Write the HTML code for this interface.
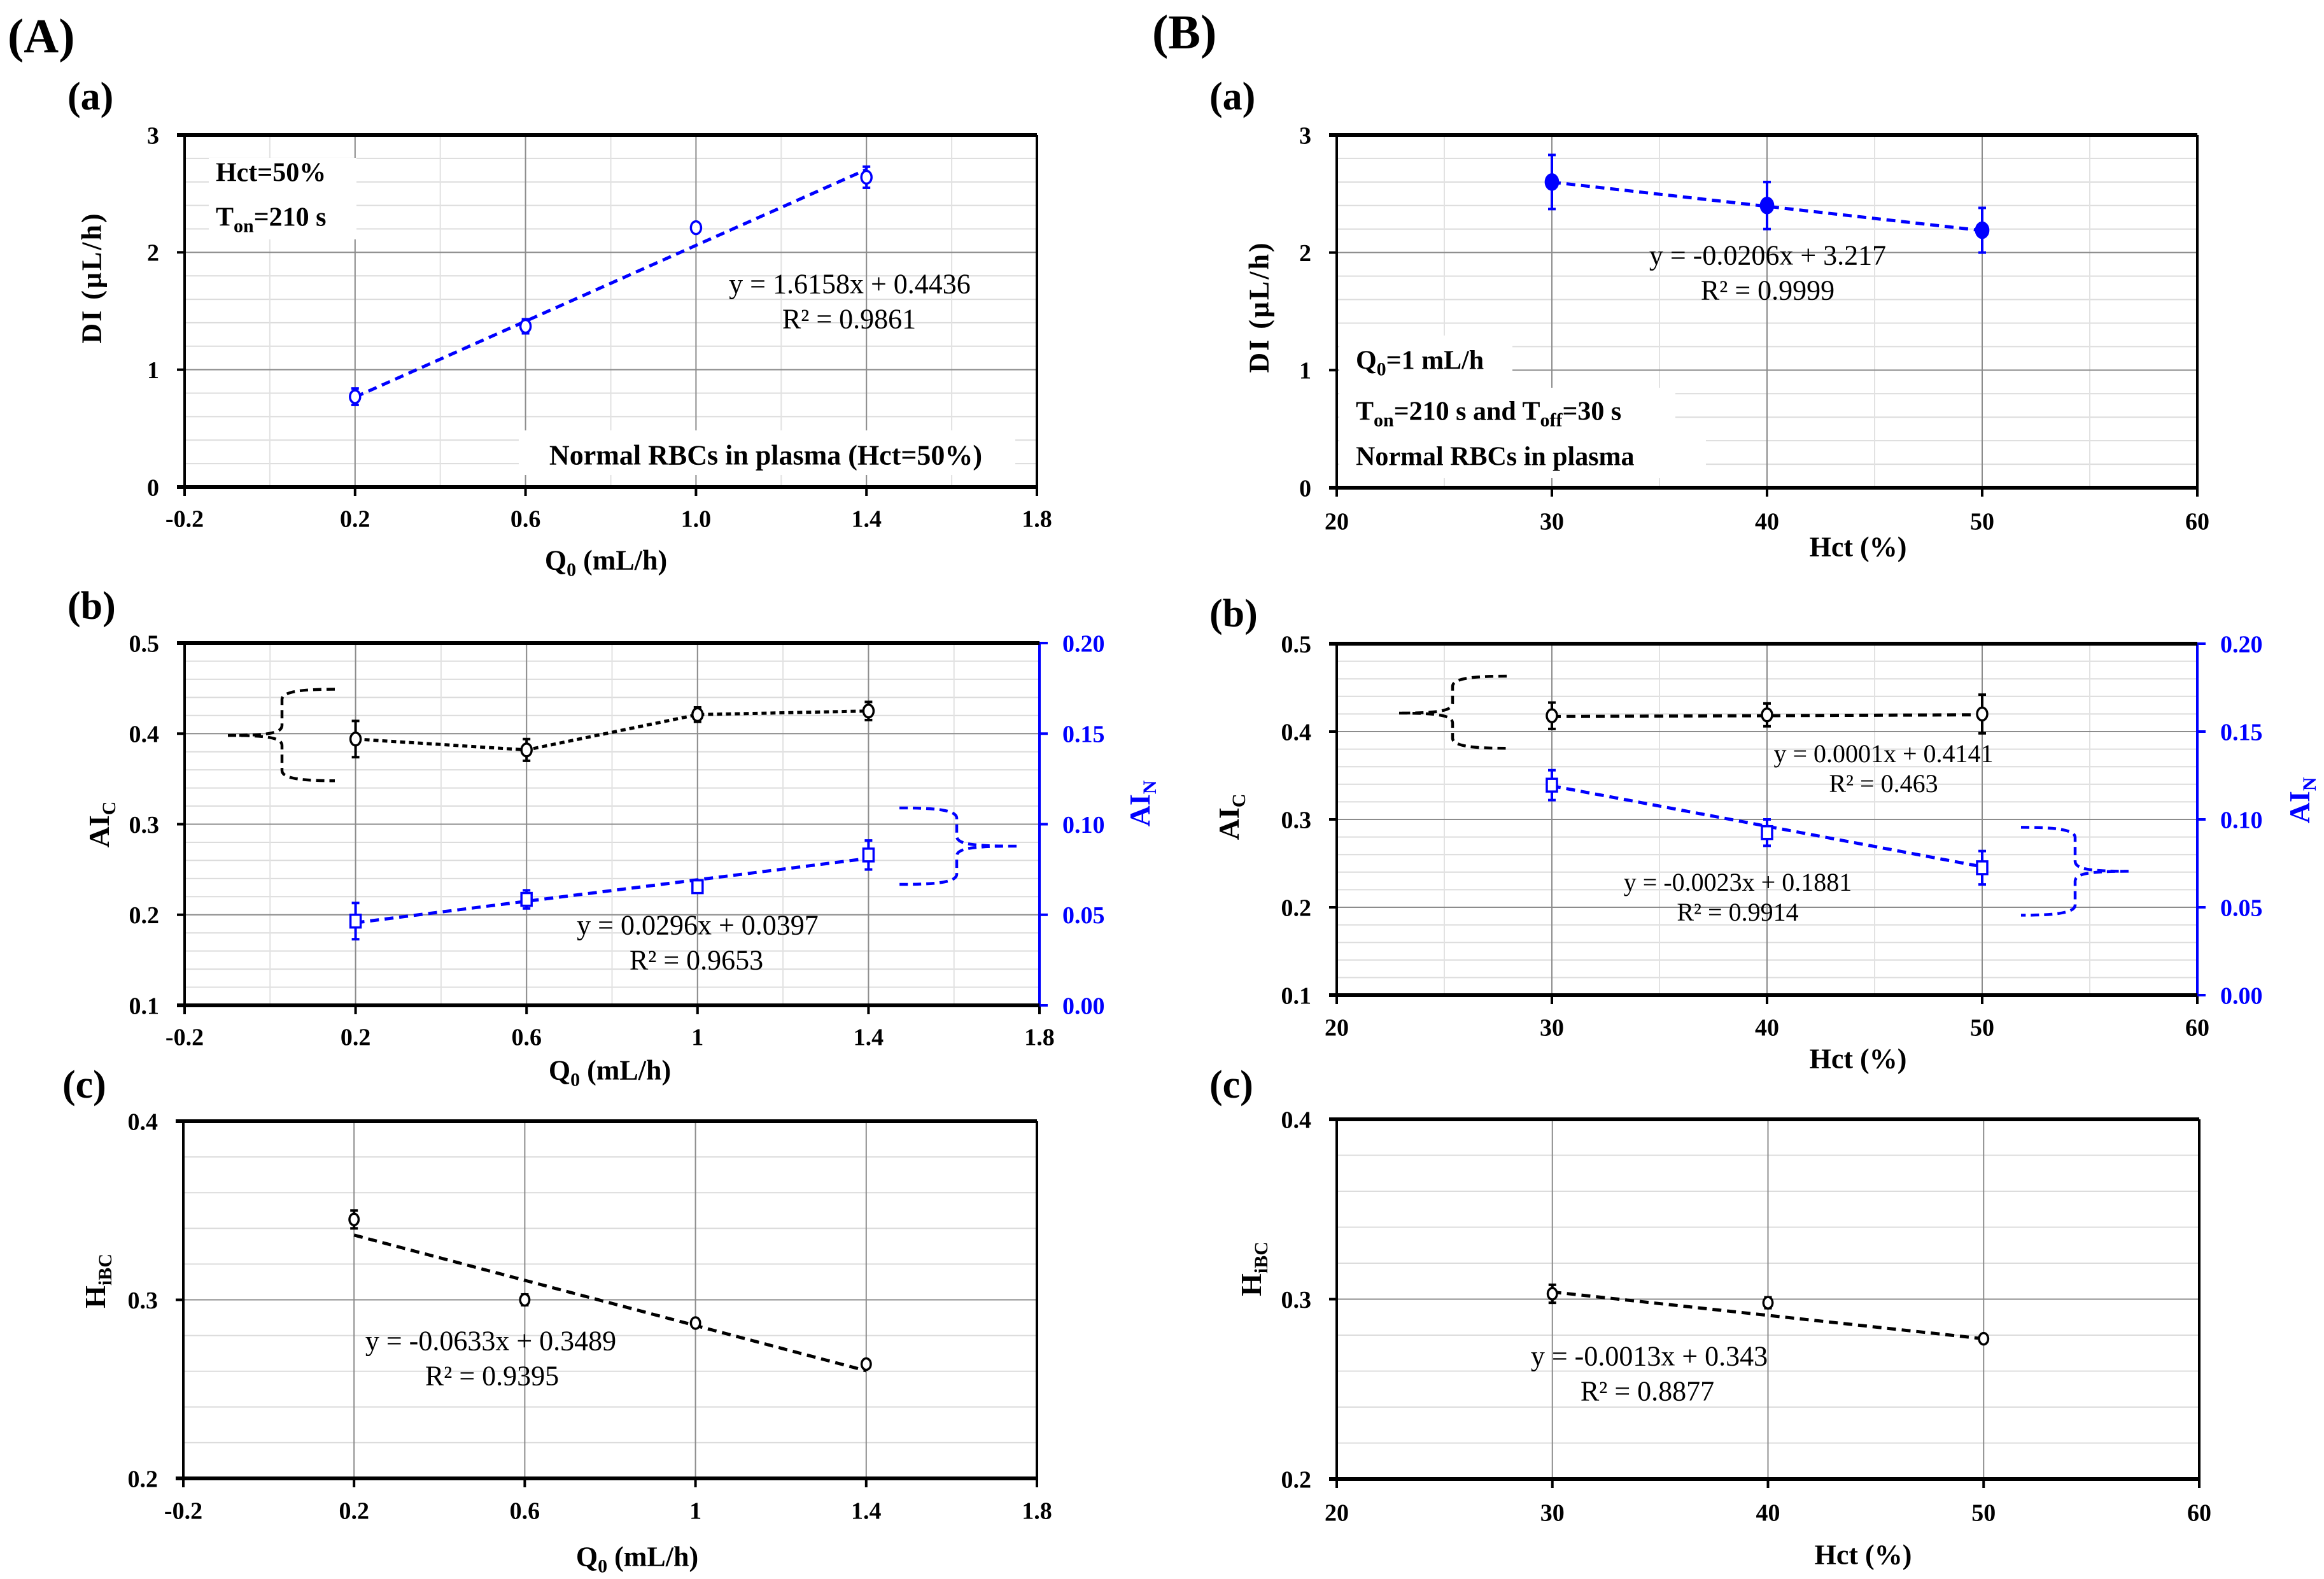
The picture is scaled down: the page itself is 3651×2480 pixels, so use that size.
<!DOCTYPE html>
<html><head><meta charset="utf-8"><style>
html,body{margin:0;padding:0;background:#fff;}
svg{display:block;font-family:"Liberation Serif",serif;}
</style></head><body>
<svg id="fig" width="3651" height="2480" viewBox="0 0 3651 2480" xmlns="http://www.w3.org/2000/svg">
<rect x="0" y="0" width="3651" height="2480" fill="#fff"/>
<g id="layer"></g>
<g font-weight="bold" fill="#000">
<text x="12" y="82" font-size="76">(A)</text>
<text x="1810" y="76" font-size="76">(B)</text>
<text x="106" y="172" font-size="62">(a)</text>
<text x="1900" y="172" font-size="62">(a)</text>
<text x="106" y="972" font-size="62">(b)</text>
<text x="1900" y="984" font-size="62">(b)</text>
<text x="98" y="1724" font-size="62">(c)</text>
<text x="1900" y="1724" font-size="62">(c)</text>
</g>
</svg>
<script>
// ---------- data ----------
const qX = [0.2, 0.6, 1.0, 1.4];
const aaDI = [0.77, 1.37, 2.21, 2.64];
const aaErr = [0.07, 0.06, 0.04, 0.09];
const aaFit = [1.6158, 0.4436];
const abAIc = [0.394, 0.382, 0.421, 0.425];
const abAIcErr = [0.02, 0.012, 0.008, 0.01];
const abAIN = [0.0465, 0.0585, 0.0655, 0.083];
const abAINErr = [0.01, 0.005, 0.003, 0.008];
const abFit = [0.0296, 0.0397];
const acH = [0.345, 0.300, 0.287, 0.264];
const acErr = [0.005, 0.003, 0.002, 0.002];
const acFit = [-0.0633, 0.3489];
const hX = [30, 40, 50];
const baDI = [2.6, 2.4, 2.19];
const baErr = [0.23, 0.2, 0.19];
const baFit = [-0.0206, 3.217];
const bbAIc = [0.418, 0.419, 0.42];
const bbAIcErr = [0.015, 0.013, 0.022];
const bbAIcFit = [0.0001, 0.4141];
const bbAIN = [0.1195, 0.0925, 0.0725];
const bbAINErr = [0.0085, 0.0075, 0.0095];
const bbAINFit = [-0.0023, 0.1881];
const bcH = [0.303, 0.298, 0.278];
const bcErr = [0.005, 0.003, 0.002];
const bcFit = [-0.0013, 0.343];
const qTicks = ["-0.2","0.2","0.6","1.0","1.4","1.8"];
const qTicks2 = ["-0.2","0.2","0.6","1","1.4","1.8"];
const hTicks = ["20","30","40","50","60"];
const diTicks = ["0","1","2","3"];
const aiTicks = ["0.1","0.2","0.3","0.4","0.5"];
const ainTicks = ["0.00","0.05","0.10","0.15","0.20"];
const hibcTicks = ["0.2","0.3","0.4"];

const NS = "http://www.w3.org/2000/svg";
const layer = document.getElementById('layer');
function mk(tag, attrs, name, parent) {
  const el = document.createElementNS(NS, tag);
  for (const k in attrs) el.setAttribute(k, attrs[k]);
  
  
  (parent || layer).appendChild(el);
  return el;
}
function txt(x, y, s, fs, opts, name) {
  const t = mk('text', Object.assign({x: x, y: y + fs * 0.35, 'font-size': fs, 'text-anchor': 'middle'}, opts || {}), name);
  t.innerHTML = s;
  return t;
}
function panel(p) {
  p.sx = v => p.x0 + (v - p.xmin) / (p.xmax - p.xmin) * (p.x1 - p.x0);
  p.sy = v => p.y1 - (v - p.ymin) / (p.ymax - p.ymin) * (p.y1 - p.y0);
  if (p.rmin !== undefined) p.sr = v => p.y1 - (v - p.rmin) / (p.rmax - p.rmin) * (p.y1 - p.y0);
  const eps = 1e-9;
  for (let v = p.ymin + p.ystepMinor; v < p.ymax - eps; v += p.ystepMinor) {
    mk('line', {x1: p.x0, x2: p.x1, y1: p.sy(v), y2: p.sy(v), stroke: '#dcdcdc', 'stroke-width': 2}, 'minor-gridline-y');
  }
  if (p.xstepMinor) for (let v = p.xmin + p.xstepMinor; v < p.xmax - eps; v += p.xstepMinor) {
    mk('line', {x1: p.sx(v), x2: p.sx(v), y1: p.y0, y2: p.y1, stroke: '#e2e2e2', 'stroke-width': 2}, 'minor-gridline-x');
  }
  p.majorY.forEach(v => mk('line', {x1: p.x0, x2: p.x1, y1: p.sy(v), y2: p.sy(v), stroke: '#8c8c8c', 'stroke-width': 2}, 'major-gridline-y'));
  p.majorX.forEach(v => mk('line', {x1: p.sx(v), x2: p.sx(v), y1: p.y0, y2: p.y1, stroke: '#8c8c8c', 'stroke-width': 2}, 'major-gridline-x'));
  (p.boxes || []).forEach(b => mk('rect', {x: b[0], y: b[1], width: b[2], height: b[3], fill: '#fff'}, 'annotation-background'));
  mk('line', {x1: p.x0, x2: p.x0, y1: p.y0, y2: p.y1, stroke: '#000', 'stroke-width': 4}, 'left-axis');
  mk('line', {x1: p.x1, x2: p.x1, y1: p.y0, y2: p.y1, stroke: p.rmin !== undefined ? '#0000ff' : '#000', 'stroke-width': 4}, 'right-axis');
  mk('line', {x1: p.x0 - 12, x2: p.x1, y1: p.y0, y2: p.y0, stroke: '#000', 'stroke-width': 6}, 'top-border');
  mk('line', {x1: p.x0 - 12, x2: p.x1, y1: p.y1, y2: p.y1, stroke: '#000', 'stroke-width': 6}, 'x-axis');
  p.xTicks.forEach((s, i) => {
    const v = p.xmin + i * p.xTickStep, x = p.sx(v);
    mk('line', {x1: x, x2: x, y1: p.y1, y2: p.y1 + 14, stroke: '#000', 'stroke-width': 4}, 'x-tick');
    txt(x, p.xTickY, s, 38, {'font-weight': 'bold'}, 'x-tick-label');
  });
  p.yTicks.forEach((s, i) => {
    const v = p.ymin + i * p.yTickStep, y = p.sy(v);
    mk('line', {x1: p.x0 - 12, x2: p.x0, y1: y, y2: y, stroke: '#000', 'stroke-width': 4}, 'y-tick');
    txt(p.x0 - 40, y, s, 38, {'font-weight': 'bold', 'text-anchor': 'end'}, 'y-tick-label');
  });
  if (p.rTicks) p.rTicks.forEach((s, i) => {
    const v = p.rmin + i * p.rTickStep, y = p.sr(v);
    mk('line', {x1: p.x1, x2: p.x1 + 13, y1: y, y2: y, stroke: '#0000ff', 'stroke-width': 4}, 'right-y-tick');
    txt(p.x1 + 36, y, s, 38, {'font-weight': 'bold', 'text-anchor': 'start', fill: '#0000ff'}, 'right-y-tick-label');
  });
  return p;
}
function errBars(p, xs, ys, es, sy, color, name) {
  xs.forEach((xv, i) => {
    const x = p.sx(xv), ya = sy(ys[i] + es[i]), yb = sy(ys[i] - es[i]);
    mk('line', {x1: x, x2: x, y1: ya, y2: yb, stroke: color, 'stroke-width': 4}, name);
    mk('line', {x1: x - 6, x2: x + 6, y1: ya, y2: ya, stroke: color, 'stroke-width': 4}, name + '-cap');
    mk('line', {x1: x - 6, x2: x + 6, y1: yb, y2: yb, stroke: color, 'stroke-width': 4}, name + '-cap');
  });
}
function fitLine(p, fit, xa, xb, sy, color, name) {
  mk('line', {x1: p.sx(xa), y1: sy(fit[0] * xa + fit[1]), x2: p.sx(xb), y2: sy(fit[0] * xb + fit[1]), stroke: color, 'stroke-width': 5, 'stroke-dasharray': '14,9'}, name);
}
function circles(p, xs, ys, sy, color, filled, r, name) {
  xs.forEach((xv, i) => mk('ellipse', {cx: p.sx(xv), cy: sy(ys[i]), rx: r * 0.8, ry: r, fill: filled ? color : '#fff', stroke: color, 'stroke-width': 3.5}, name));
}
function squares(p, xs, ys, sy, color, name) {
  xs.forEach((xv, i) => mk('rect', {x: p.sx(xv) - 8, y: sy(ys[i]) - 10, width: 16, height: 20, fill: '#fff', stroke: color, 'stroke-width': 3.5}, name));
}
function brace(xe, xv, xt, yt, ym, yb, color, name) {
  const r = 16, dir = Math.sign(xe - xv);
  const d = `M${xe},${yt} C${xv + dir * 40},${yt} ${xv},${yt + 2} ${xv},${yt + r} L${xv},${ym - r} C${xv},${ym - 4} ${xv - dir * 20},${ym} ${xt},${ym} ` +
    `M${xt},${ym} C${xv - dir * 20},${ym} ${xv},${ym + 4} ${xv},${ym + r} L${xv},${yb - r} C${xv},${yb - 2} ${xv + dir * 40},${yb} ${xe},${yb}`;
  mk('path', {d: d, fill: 'none', stroke: color, 'stroke-width': 4.5, 'stroke-dasharray': '13,8'}, name);
}

// ---------- A(a) ----------
const Aa = panel({x0: 290, x1: 1629, y0: 212, y1: 765, xmin: -0.2, xmax: 1.8, ymin: 0, ymax: 3,
  ystepMinor: 0.2, xstepMinor: 0.2, majorY: [1, 2], majorX: [0.2, 0.6, 1.0, 1.4],
  xTicks: qTicks, xTickStep: 0.4, xTickY: 814, yTicks: diTicks, yTickStep: 1,
  boxes: [[328, 248, 232, 128], [815, 676, 780, 70]]});
fitLine(Aa, aaFit, 0.2, 1.4, Aa.sy, '#0000ff', 'di-trendline');
errBars(Aa, qX, aaDI, aaErr, Aa.sy, '#0000ff', 'di-error-bar');
circles(Aa, qX, aaDI, Aa.sy, '#0000ff', false, 10, 'di-point');

// ---------- A(b) ----------
const Ab = panel({x0: 290, x1: 1633, y0: 1010, y1: 1579, xmin: -0.2, xmax: 1.8, ymin: 0.1, ymax: 0.5, rmin: 0, rmax: 0.2,
  ystepMinor: 0.02, xstepMinor: 0.2, majorY: [0.2, 0.3, 0.4], majorX: [0.2, 0.6, 1.0, 1.4],
  xTicks: qTicks2, xTickStep: 0.4, xTickY: 1628, yTicks: aiTicks, yTickStep: 0.1, rTicks: ainTicks, rTickStep: 0.05});
mk('polyline', {points: qX.map((x, i) => Ab.sx(x) + ',' + Ab.sy(abAIc[i])).join(' '), fill: 'none', stroke: '#000', 'stroke-width': 5, 'stroke-dasharray': '8,6'}, 'aic-line');
errBars(Ab, qX, abAIc, abAIcErr, Ab.sy, '#000', 'aic-error-bar');
circles(Ab, qX, abAIc, Ab.sy, '#000', false, 10, 'aic-point');
fitLine(Ab, abFit, 0.2, 1.4, Ab.sr, '#0000ff', 'ain-trendline');
errBars(Ab, qX, abAIN, abAINErr, Ab.sr, '#0000ff', 'ain-error-bar');
squares(Ab, qX, abAIN, Ab.sr, '#0000ff', 'ain-point');
brace(526, 443, 358, Ab.sy(0.449), Ab.sy(0.398), Ab.sy(0.348), '#000', 'aic-brace');
brace(1413, 1503, 1597, 1269, 1329, 1389, '#0000ff', 'ain-brace');

// ---------- A(c) ----------
const Ac = panel({x0: 288, x1: 1629, y0: 1761, y1: 2322, xmin: -0.2, xmax: 1.8, ymin: 0.2, ymax: 0.4,
  ystepMinor: 0.02, majorY: [0.3], majorX: [0.2, 0.6, 1.0, 1.4],
  xTicks: qTicks2, xTickStep: 0.4, xTickY: 2372, yTicks: hibcTicks, yTickStep: 0.1});
fitLine(Ac, acFit, 0.2, 1.4, Ac.sy, '#000', 'hibc-trendline');
errBars(Ac, qX, acH, acErr, Ac.sy, '#000', 'hibc-error-bar');
circles(Ac, qX, acH, Ac.sy, '#000', false, 9, 'hibc-point');

// ---------- B(a) ----------
const Ba = panel({x0: 2100, x1: 3452, y0: 212, y1: 766, xmin: 20, xmax: 60, ymin: 0, ymax: 3,
  ystepMinor: 0.2, xstepMinor: 5, majorY: [1, 2], majorX: [30, 40, 50],
  xTicks: hTicks, xTickStep: 10, xTickY: 818, yTicks: diTicks, yTickStep: 1,
  boxes: [[2104, 527, 272, 82], [2104, 609, 528, 70], [2104, 679, 576, 72]]});
fitLine(Ba, baFit, 30, 50, Ba.sy, '#0000ff', 'di-trendline');
errBars(Ba, hX, baDI, baErr, Ba.sy, '#0000ff', 'di-error-bar');
circles(Ba, hX, baDI, Ba.sy, '#0000ff', true, 12, 'di-point');

// ---------- B(b) ----------
const Bb = panel({x0: 2100, x1: 3452, y0: 1011, y1: 1563, xmin: 20, xmax: 60, ymin: 0.1, ymax: 0.5, rmin: 0, rmax: 0.2,
  ystepMinor: 0.02, xstepMinor: 5, majorY: [0.2, 0.3, 0.4], majorX: [30, 40, 50],
  xTicks: hTicks, xTickStep: 10, xTickY: 1613, yTicks: aiTicks, yTickStep: 0.1, rTicks: ainTicks, rTickStep: 0.05});
fitLine(Bb, bbAIcFit, 30, 50, Bb.sy, '#000', 'aic-trendline');
errBars(Bb, hX, bbAIc, bbAIcErr, Bb.sy, '#000', 'aic-error-bar');
circles(Bb, hX, bbAIc, Bb.sy, '#000', false, 10, 'aic-point');
fitLine(Bb, bbAINFit, 30, 50, Bb.sr, '#0000ff', 'ain-trendline');
errBars(Bb, hX, bbAIN, bbAINErr, Bb.sr, '#0000ff', 'ain-error-bar');
squares(Bb, hX, bbAIN, Bb.sr, '#0000ff', 'ain-point');
brace(2367, 2282, 2198, Bb.sy(0.463), Bb.sy(0.421), Bb.sy(0.381), '#000', 'aic-brace');
brace(3175, 3260, 3344, Bb.sy(0.291), Bb.sy(0.241), Bb.sy(0.191), '#0000ff', 'ain-brace');

// ---------- B(c) ----------
const Bc = panel({x0: 2100, x1: 3455, y0: 1758, y1: 2323, xmin: 20, xmax: 60, ymin: 0.2, ymax: 0.4,
  ystepMinor: 0.02, majorY: [0.3], majorX: [30, 40, 50],
  xTicks: hTicks, xTickStep: 10, xTickY: 2375, yTicks: hibcTicks, yTickStep: 0.1});
fitLine(Bc, bcFit, 30, 50, Bc.sy, '#000', 'hibc-trendline');
errBars(Bc, hX, bcH, bcErr, Bc.sy, '#000', 'hibc-error-bar');
circles(Bc, hX, bcH, Bc.sy, '#000', false, 9, 'hibc-point');

// ---------- titles & annotations ----------
const B = {'font-weight': 'bold'};
txt(952, 879, 'Q' + '<tspan dy="10" font-size="30">0</tspan><tspan dy="-10"> (mL/h)</tspan>', 44, B, 'x-axis-title');
txt(143, 436, 'DI (μL/h)', 44, Object.assign({transform: 'rotate(-90 143 436)', 'letter-spacing': '3'}, B), 'y-axis-title');
txt(339, 270, 'Hct=50%', 42, Object.assign({'text-anchor': 'start'}, B), 'hct-annotation');
txt(339, 340, 'T<tspan dy="10" font-size="30">on</tspan><tspan dy="-10">=210 s</tspan>', 42, Object.assign({'text-anchor': 'start'}, B), 'ton-annotation');
txt(1335, 445, 'y = 1.6158x + 0.4436', 44, {}, 'trend-equation');
txt(1334, 500, 'R² = 0.9861', 44, {}, 'r-squared');
txt(1203, 714, 'Normal RBCs in plasma (Hct=50%)', 44, B, 'sample-annotation');
txt(958, 1680, 'Q<tspan dy="10" font-size="30">0</tspan><tspan dy="-10"> (mL/h)</tspan>', 44, B, 'x-axis-title');
txt(155, 1295, 'AI<tspan dy="10" font-size="30">C</tspan>', 46, Object.assign({transform: 'rotate(-90 155 1295)'}, B), 'left-y-axis-title');
txt(1790, 1262, 'AI<tspan dy="10" font-size="30">N</tspan>', 46, Object.assign({transform: 'rotate(-90 1790 1262)', fill: '#0000ff'}, B), 'right-y-axis-title');
txt(1096, 1452, 'y = 0.0296x + 0.0397', 44, {}, 'trend-equation');
txt(1094, 1507, 'R² = 0.9653', 44, {}, 'r-squared');
txt(1001, 2444, 'Q<tspan dy="10" font-size="30">0</tspan><tspan dy="-10"> (mL/h)</tspan>', 44, B, 'x-axis-title');
txt(149, 2012, 'H<tspan dy="10" font-size="30">iBC</tspan>', 46, Object.assign({transform: 'rotate(-90 149 2012)'}, B), 'y-axis-title');
txt(771, 2105, 'y = -0.0633x + 0.3489', 44, {}, 'trend-equation');
txt(773, 2160, 'R² = 0.9395', 44, {}, 'r-squared');
txt(2919, 858, 'Hct (%)', 44, B, 'x-axis-title');
txt(1977, 482, 'DI (μL/h)', 44, Object.assign({transform: 'rotate(-90 1977 482)', 'letter-spacing': '3'}, B), 'y-axis-title');
txt(2777, 400, 'y = -0.0206x + 3.217', 44, {}, 'trend-equation');
txt(2777, 455, 'R² = 0.9999', 44, {}, 'r-squared');
txt(2130, 565, 'Q<tspan dy="10" font-size="30">0</tspan><tspan dy="-10">=1 mL/h</tspan>', 42, Object.assign({'text-anchor': 'start'}, B), 'flow-annotation');
txt(2130, 645, 'T<tspan dy="10" font-size="30">on</tspan><tspan dy="-10">=210 s and T</tspan><tspan dy="10" font-size="30">off</tspan><tspan dy="-10">=30 s</tspan>', 42, Object.assign({'text-anchor': 'start'}, B), 'timing-annotation');
txt(2130, 716, 'Normal RBCs in plasma', 42, Object.assign({'text-anchor': 'start'}, B), 'sample-annotation');
txt(2919, 1662, 'Hct (%)', 44, B, 'x-axis-title');
txt(1930, 1283, 'AI<tspan dy="10" font-size="30">C</tspan>', 46, Object.assign({transform: 'rotate(-90 1930 1283)'}, B), 'left-y-axis-title');
txt(3612, 1257, 'AI<tspan dy="10" font-size="30">N</tspan>', 46, Object.assign({transform: 'rotate(-90 3612 1257)', fill: '#0000ff'}, B), 'right-y-axis-title');
txt(2959, 1183, 'y = 0.0001x + 0.4141', 40, {}, 'aic-trend-equation');
txt(2959, 1230, 'R² = 0.463', 40, {}, 'aic-r-squared');
txt(2730, 1385, 'y = -0.0023x + 0.1881', 40, {}, 'ain-trend-equation');
txt(2730, 1432, 'R² = 0.9914', 40, {}, 'ain-r-squared');
txt(2927, 2441, 'Hct (%)', 44, B, 'x-axis-title');
txt(1965, 1993, 'H<tspan dy="10" font-size="30">iBC</tspan>', 46, Object.assign({transform: 'rotate(-90 1965 1993)'}, B), 'y-axis-title');
txt(2591, 2129, 'y = -0.0013x + 0.343', 44, {}, 'trend-equation');
txt(2588, 2184, 'R² = 0.8877', 44, {}, 'r-squared');
</script>
</body></html>
